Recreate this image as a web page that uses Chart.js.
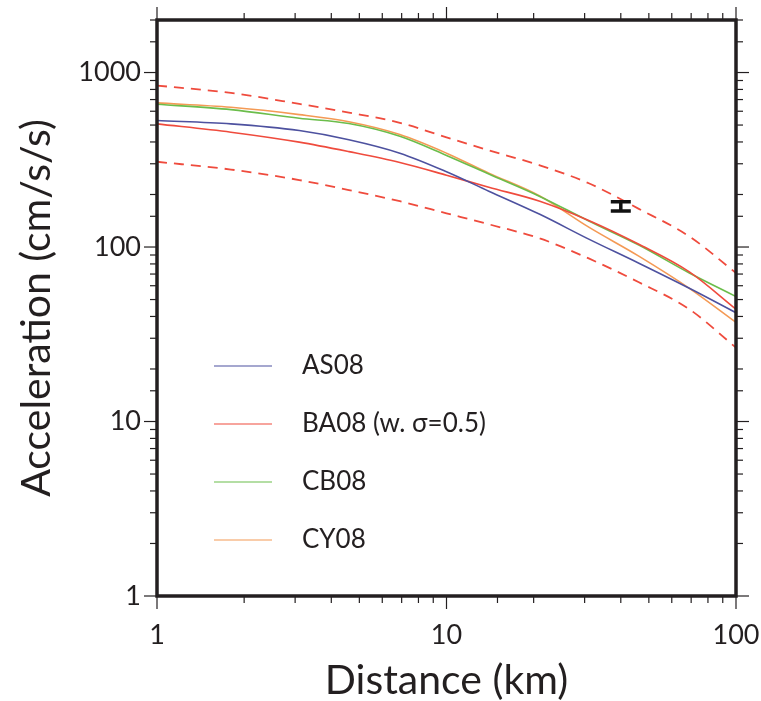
<!DOCTYPE html>
<html>
<head>
<meta charset="utf-8">
<script src="https://cdn.jsdelivr.net/npm/chart.js@4.4.1/dist/chart.umd.min.js"></script>
<style>
  body { margin: 0; background: #fff; }
  #wrap { width: 761px; height: 701px; }
</style>
</head>
<body>
<div id="wrap"><canvas id="gmpeChart" width="761" height="701"></canvas></div>
<script>
const distances = [1, 1.8, 3.1, 4.6, 6.9, 10, 14, 21, 31, 46, 69, 100];

// Median predictions (cm/s/s)
const as08 = [531, 508, 465, 412, 345, 270, 209, 154, 111, 81, 58, 42];
const ba08 = [508, 455, 399, 352, 305, 258, 220, 183, 142, 104, 72, 44];
const cb08 = [658, 613, 547, 510, 431, 335, 262, 195, 141, 103, 71, 52];
const cy08 = [670, 632, 574, 522, 441, 345, 265, 196, 130, 89, 58, 37];

// BA08 +/- sigma (0.5)
const ba08Upper = [842, 764, 661, 590, 515, 425, 358, 294, 232, 166, 115, 71];
const ba08Lower = [308, 278, 242, 212, 183, 156, 135, 112, 86, 63, 44, 26.5];

// Observation with error bar
const obsDist = [40];
const obsLow = [161];
const obsHigh = [182];

const seriesLabels = ["AS08", "BA08 (w. \u03c3=0.5)", "CB08", "CY08"];
const xTickLabels = ["1", "10", "100"];
const yTickLabels = ["1", "10", "100", "1000"];

const BLUE = "#4d519f";
const RED = "#ef4b3d";
const GREEN = "#6bbd4b";
const ORANGE = "#f49a55";
const INK = "#231f20";
const FONT = "Lato";

function toPoints(values) {
  return distances.map((d, i) => ({ x: d, y: values[i] }));
}

function solid(label, values, color) {
  return {
    label: label,
    data: toPoints(values),
    borderColor: color,
    borderWidth: 1.6,
    pointRadius: 0,
    fill: false,
    cubicInterpolationMode: "monotone",
  };
}

function dashed(values) {
  return {
    label: "",
    data: toPoints(values),
    borderColor: RED,
    borderWidth: 1.8,
    borderDash: [10, 7],
    pointRadius: 0,
    fill: false,
    cubicInterpolationMode: "monotone",
    noLegend: true,
  };
}

// Frame plus outward tick marks on all four sides
const frameAndTicks = {
  id: "frameAndTicks",
  afterDatasetsDraw(chart) {
    const { ctx, chartArea: a, scales } = chart;
    const line = (x1, y1, x2, y2) => {
      ctx.beginPath();
      ctx.moveTo(x1, y1);
      ctx.lineTo(x2, y2);
      ctx.stroke();
    };
    ctx.save();
    ctx.strokeStyle = INK;
    ctx.lineWidth = 1.2;
    scales.x.ticks.forEach((t) => {
      const px = scales.x.getPixelForValue(t.value);
      const len = xTickLabels.includes(String(t.value)) ? 13 : 7;
      line(px, a.bottom, px, a.bottom + len);
      line(px, a.top, px, a.top - len);
    });
    scales.y.ticks.forEach((t) => {
      const py = scales.y.getPixelForValue(t.value);
      const len = yTickLabels.includes(String(t.value)) ? 13 : 7;
      line(a.left, py, a.left - len, py);
      line(a.right, py, a.right + len, py);
    });
    ctx.lineWidth = 3.5;
    ctx.strokeRect(a.left, a.top, a.right - a.left, a.bottom - a.top);
    ctx.restore();
  },
};

// Error bar for the observation
const errorBars = {
  id: "errorBars",
  afterDatasetsDraw(chart) {
    const { ctx, scales } = chart;
    ctx.save();
    ctx.strokeStyle = "#111";
    obsDist.forEach((d, i) => {
      const px = scales.x.getPixelForValue(d);
      const top = scales.y.getPixelForValue(obsHigh[i]);
      const bottom = scales.y.getPixelForValue(obsLow[i]);
      ctx.lineWidth = 3.5;
      ctx.beginPath();
      ctx.moveTo(px, top);
      ctx.lineTo(px, bottom);
      ctx.moveTo(px - 10, top);
      ctx.lineTo(px + 10, top);
      ctx.moveTo(px - 10, bottom);
      ctx.lineTo(px + 10, bottom);
      ctx.stroke();
    });
    ctx.restore();
  },
};

// Legend drawn inside the plot, lower left
const insideLegend = {
  id: "insideLegend",
  afterDatasetsDraw(chart) {
    const { ctx, chartArea: a } = chart;
    ctx.save();
    ctx.font = "26px " + FONT;
    ctx.textBaseline = "middle";
    ctx.fillStyle = INK;
    let row = 0;
    chart.data.datasets.forEach((ds) => {
      if (ds.noLegend) return;
      const y = a.top + 346 + row * 58;
      ctx.strokeStyle = ds.borderColor;
      ctx.lineWidth = 1.2;
      ctx.beginPath();
      ctx.moveTo(a.left + 57, y);
      ctx.lineTo(a.left + 115, y);
      ctx.stroke();
      ctx.fillText(ds.label, a.left + 145, y);
      row++;
    });
    ctx.restore();
  },
};

const ctx = document.getElementById("gmpeChart").getContext("2d");
new Chart(ctx, {
  type: "line",
  data: {
    datasets: [
      solid(seriesLabels[0], as08, BLUE),
      solid(seriesLabels[1], ba08, RED),
      solid(seriesLabels[2], cb08, GREEN),
      solid(seriesLabels[3], cy08, ORANGE),
      dashed(ba08Upper),
      dashed(ba08Lower),
    ],
  },
  options: {
    responsive: false,
    animation: false,
    layout: { padding: { left: 0, right: 25, top: 20, bottom: 0 } },
    plugins: {
      legend: { display: false },
      tooltip: { enabled: false },
    },
    scales: {
      x: {
        type: "logarithmic",
        min: 1,
        max: 100,
        grid: { display: false, drawTicks: false },
        border: { display: false },
        ticks: {
          autoSkip: false,
          maxRotation: 0,
          padding: 23,
          color: INK,
          font: { family: FONT, size: 27 },
          callback: (v) => (xTickLabels.includes(String(v)) ? String(v) : ""),
        },
        title: {
          display: true,
          text: "Distance (km)",
          color: INK,
          font: { family: FONT, size: 41, lineHeight: 1 },
          padding: { top: 0, bottom: 0 },
        },
        afterFit: (scale) => {
          scale.height = 105;
          scale.paddingLeft = 0;
          scale.paddingRight = 0;
        },
      },
      y: {
        type: "logarithmic",
        min: 1,
        max: 2000,
        grid: { display: false, drawTicks: false },
        border: { display: false },
        ticks: {
          autoSkip: false,
          padding: 16,
          color: INK,
          font: { family: FONT, size: 27 },
          callback: (v) => (yTickLabels.includes(String(v)) ? String(v) : ""),
        },
        title: {
          display: true,
          text: "Acceleration (cm/s/s)",
          color: INK,
          font: { family: FONT, size: 41, lineHeight: 1 },
          padding: { top: 16, bottom: 0 },
        },
        afterFit: (scale) => {
          scale.width = 157;
          scale.paddingTop = 0;
          scale.paddingBottom = 0;
        },
      },
    },
  },
  plugins: [frameAndTicks, errorBars, insideLegend],
});
</script>
</body>
</html>
